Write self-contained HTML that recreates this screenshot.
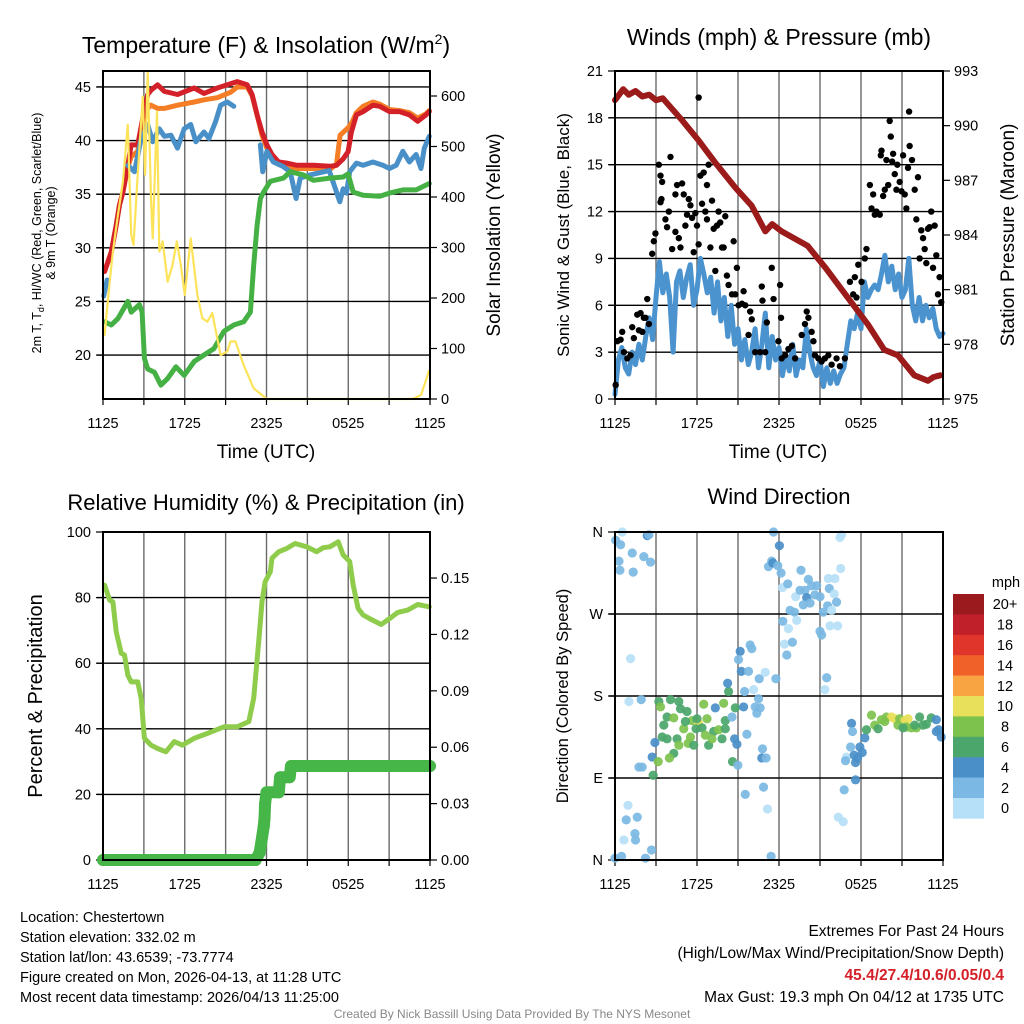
<!DOCTYPE html>
<html><head><meta charset="utf-8"><style>
html,body{margin:0;padding:0;background:#fff;}
svg{display:block;font-family:"Liberation Sans",Arial,sans-serif;}
</style></head><body>
<svg id="root" width="1024" height="1024" viewBox="0 0 1024 1024" xmlns="http://www.w3.org/2000/svg">
<g id="bg"></g>
<g id="bottom-text" font-size="14.5" fill="#000">
<text x="20" y="922">Location: Chestertown</text>
<text x="20" y="942">Station elevation: 332.02 m</text>
<text x="20" y="962">Station lat/lon: 43.6539; -73.7774</text>
<text x="20" y="982">Figure created on Mon, 2026-04-13, at 11:28 UTC</text>
<text x="20" y="1002">Most recent data timestamp: 2026/04/13 11:25:00</text>
<text x="1004" y="936" text-anchor="end" font-size="15.5">Extremes For Past 24 Hours</text>
<text x="1004" y="958" text-anchor="end" font-size="15.5">(High/Low/Max Wind/Precipitation/Snow Depth)</text>
<text x="1004" y="980" text-anchor="end" font-size="15.5" font-weight="bold" fill="#d42028">45.4/27.4/10.6/0.05/0.4</text>
<text x="1004" y="1002" text-anchor="end" font-size="15.5">Max Gust: 19.3 mph On 04/12 at 1735 UTC</text>
<text x="512" y="1018" text-anchor="middle" font-size="12" fill="#888">Created By Nick Bassill Using Data Provided By The NYS Mesonet</text>
</g>
</svg>
<script>
// ---------- Panel 1 data ----------
const redHours=[0.12,0.61,0.97,1.21,1.46,1.82,2.07,2.55,2.92,3.28,3.52,4.01,4.5,5.47,6.69,7.41,8.39,9.36,9.85,10.58,10.94,11.31,11.67,12.03,12.4,12.89,13.49,14.22,15.44,16.65,17.14,17.63,17.99,18.23,18.6,19.09,19.81,20.3,21.03,21.76,22.49,23.1,23.71,23.95];
const redTemps=[27.8,29.6,32.1,34.0,35.2,37.7,39.6,39.6,42.1,44.3,44.7,45.2,44.6,44.3,44.9,44.4,44.9,45.3,45.5,45.2,44.3,42.4,40.8,39.6,38.7,38.0,37.9,37.7,37.7,37.6,37.7,38.3,38.96,40.8,42.4,42.7,43.3,43.2,42.7,42.7,42.4,41.8,42.4,42.7];
const orangeHours=[0.12,0.61,0.97,1.21,1.46,1.82,2.07,2.55,2.92,3.28,3.52,4.01,4.5,5.47,6.69,7.41,8.39,9.36,9.85,10.58,10.94,11.31,11.67,12.03,12.4,12.89,13.49,14.22,15.44,16.65,17.14,17.4,17.99,18.23,18.6,19.09,19.81,20.3,21.03,21.76,22.49,23.1,23.71,23.95];
const orangeTemps=[27.8,29.6,32.1,34.0,35.2,37.5,38.5,39.0,41.5,43.0,43.3,43.0,43.0,43.3,43.6,43.8,44.0,44.5,45.0,45.0,44.2,42.4,40.5,39.3,38.5,37.8,37.5,37.4,37.4,37.3,37.8,40.5,41.2,41.6,42.6,43.2,43.6,43.4,42.9,42.8,42.6,42.1,42.5,42.8];
const blueHours=[0.05,0.3,1.0,1.82,2.31,2.8,3.28,3.65,4.13,4.5,4.98,5.47,5.96,6.44,6.81,7.41,7.78,8.27,8.63,9.12,9.6,10.5,11.55,11.72,12.03,12.5,13.2,13.74,14.17,14.47,15.2,16.6,17.38,17.63,17.87,18.11,18.6,19.09,19.81,20.54,21.03,21.52,22.0,22.49,22.98,23.34,23.58,23.95];
const blueTemps=[25.5,27.0,null,37.7,37.1,40.2,41.5,39.9,41.1,40.4,40.5,39.3,41.1,41.5,39.9,40.8,40.2,41.8,43.3,43.6,43.2,null,39.6,37.1,39.0,38.0,37.6,37.1,34.6,36.5,36.8,37.2,34.3,35.5,35.1,37.1,37.9,37.7,38.0,37.7,37.4,37.7,39.0,38.0,38.7,37.4,39.3,40.4];
const greenHours=[0.12,0.61,1.09,1.82,2.07,2.67,2.87,3.04,3.28,3.77,4.25,4.74,5.35,5.96,6.69,7.41,8.14,8.87,9.6,10.33,10.82,11.06,11.31,11.55,11.79,12.28,13.25,13.74,14.71,15.44,16.65,17.63,17.99,18.36,19.09,20.3,21.03,22.0,22.98,23.95];
const greenTemps=[23.1,22.8,23.4,25.0,24.0,24.7,24.0,19.7,18.7,18.4,17.2,17.8,18.9,18.1,19.4,20.0,20.6,22.2,22.8,23.1,24.0,28.4,32.1,34.6,35.2,36.2,36.5,37.1,36.8,36.3,36.5,36.6,36.9,35.2,34.9,34.8,35.1,35.4,35.4,36.0];
const solarHours=[0.12,0.49,0.73,1.09,1.46,1.82,2.07,2.24,2.55,2.92,3.09,3.28,3.52,3.65,3.96,4.13,4.38,4.74,5.1,5.42,5.71,6.0,6.44,6.93,7.29,7.66,8.02,8.63,9.12,9.36,9.72,10.33,11.06,12.03,22.73,23.34,23.95];
const solarValues=[127,232,292,364,430,543,325,305,444,599,444,648,397,318,569,292,312,232,265,312,265,206,318,206,160,153,170,87,94,114,114,67,21,0,0,8,57];
const tempTicks=[20,25,30,35,40,45];
const solarTicks=[0,100,200,300,400,500,600];
const timeLabels=["1125","1725","2325","0525","1125"];
// ---------- Panel 2 data ----------
const windHours=[0,0.25,0.5,0.75,1,1.25,1.5,1.75,2,2.25,2.5,2.75,3,3.25,3.5,3.75,4,4.25,4.5,4.75,5,5.25,5.5,5.75,6,6.25,6.5,6.75,7,7.25,7.5,7.75,8,8.25,8.5,8.75,9,9.25,9.5,9.75,10,10.25,10.5,10.75,11,11.25,11.5,11.75,12,12.25,12.5,12.75,13,13.25,13.5,13.75,14,14.25,14.5,14.75,15,15.25,15.5,15.75,16,16.25,16.5,16.75,17,17.25,17.5,17.75,18,18.25,18.5,18.75,19,19.25,19.5,19.75,20,20.25,20.5,20.75,21,21.25,21.5,21.75,22,22.25,22.5,22.75,23,23.25,23.5,23.75,24];
const windSpeeds=[0.3,2.5,3.3,2.0,1.6,3.0,2.2,3.5,2.5,4.0,5.2,3.8,6.5,8.8,6.8,8.0,6.5,3.0,7.5,8.2,6.5,7.8,8.6,6.0,7.0,9.0,8.0,6.8,7.8,5.5,7.5,5.0,6.5,4.0,6.0,3.5,4.5,2.5,3.8,2.2,3.0,4.5,2.0,3.5,5.5,2.0,4.0,2.5,3.3,1.5,2.8,1.8,3.5,1.5,2.5,2.0,4.5,3.0,2.0,1.5,2.5,0.8,2.0,1.0,1.8,1.0,1.6,2.0,3.5,5.0,4.5,5.5,4.5,7.5,6.5,7.0,7.3,7.0,8.0,9.2,7.5,8.5,7.0,8.0,6.5,7.0,9.0,6.0,5.0,6.5,5.0,6.0,5.2,5.8,4.5,4.0,4.2];
const gustHours=[0.05,0.17,0.41,0.53,0.65,0.9,1.14,1.26,1.38,1.75,1.63,1.87,2.0,2.11,2.23,2.36,2.48,2.72,2.96,2.84,3.21,3.33,3.45,3.33,3.4,3.69,3.81,4.06,3.94,4.18,4.42,4.54,4.42,4.67,4.79,4.91,5.03,5.15,5.27,5.4,5.52,5.64,5.76,5.88,6.0,6.12,6.12,6.25,6.49,6.37,6.61,6.73,6.85,6.73,6.98,7.1,7.22,7.34,7.46,7.58,7.7,7.83,7.95,8.07,8.19,8.31,8.68,8.56,8.8,8.92,9.04,9.29,9.41,9.53,9.77,9.89,10.01,10.26,10.62,10.74,10.79,10.99,11.11,11.47,11.6,12.08,12.15,11.96,12.2,12.45,12.69,12.94,13.18,13.66,13.9,14.03,14.15,14.39,14.52,14.63,14.88,15.12,15.36,15.61,15.85,16.21,16.46,16.82,17.19,17.43,17.55,17.67,17.8,18.04,18.28,18.4,18.65,18.77,18.89,19.01,19.13,19.37,19.45,19.5,19.62,19.74,19.86,19.99,20.1,20.18,20.28,20.35,20.47,20.59,20.66,20.83,20.96,21.08,21.2,21.32,21.44,21.52,21.56,21.73,21.93,22.05,22.17,22.29,22.41,22.54,22.66,22.78,22.9,23.02,23.14,23.27,23.39,23.51,23.63,23.75,23.87];
const gustSpeeds=[0.9,3.7,3.8,4.3,3.0,2.6,2.8,4.6,3.9,4.4,5.4,5.5,4.3,5.2,5.2,6.4,4.8,9.3,10.6,10.1,15.0,14.3,13.9,12.6,12.8,11.5,11.0,15.5,12.0,9.6,13.1,13.7,10.7,10.3,9.7,13.8,13.1,11.1,11.8,12.8,12.4,11.6,9.4,11.9,11.1,9.9,19.3,14.3,14.5,12.5,12.0,13.7,15.0,11.5,9.7,12.7,10.9,8.2,11.1,12.0,11.3,9.7,9.7,11.7,7.9,7.3,10.1,6.7,6.7,8.4,6.0,6.1,6.9,6.0,4.1,5.6,5.1,3.0,3.0,7.2,6.3,3.0,4.9,8.4,6.4,7.3,5.2,3.7,2.6,2.8,3.2,3.4,2.6,4.1,4.8,5.6,5.2,4.3,3.7,2.8,2.6,2.4,2.6,2.8,2.2,2.6,2.1,2.6,7.5,6.7,7.8,6.5,8.6,7.5,9.0,9.6,13.7,12.2,13.1,11.8,12.0,11.8,15.6,15.9,13.0,13.4,15.3,13.7,17.8,16.8,15.2,15.7,14.4,13.4,15.0,13.9,13.3,15.6,13.1,12.2,14.8,18.4,16.2,15.3,13.4,11.5,14.2,9.0,10.8,10.3,9.6,8.7,10.9,11.0,12.0,8.4,11.1,9.2,6.7,7.8,6.2];
const pressHours=[0,0.6,1.0,1.5,2.0,2.5,3.0,3.5,4.9,6.1,7.3,8.8,10.0,11.0,11.5,12.2,14.1,15.4,17.1,18.5,19.7,20.7,21.9,22.9,23.3,23.8];
const pressValues=[991.4,992.0,991.7,991.9,991.6,991.7,991.4,991.5,990.3,989.2,988.0,986.6,985.6,984.2,984.6,984.2,983.4,982.2,980.5,979.1,977.7,977.4,976.3,976.0,976.2,976.3];
const windTicks=[0,3,6,9,12,15,18,21];
const pressTicks=[975,978,981,984,987,990,993];
// ---------- Panel 3 data ----------
const rhHours=[0.12,0.49,0.73,0.97,1.34,1.58,1.82,2.07,2.55,2.8,3.04,3.53,4.01,4.62,5.23,5.83,6.69,7.66,8.87,9.85,10.7,11.06,11.43,11.67,11.9,12.28,12.4,12.9,13.5,14.1,14.95,15.68,16.17,16.65,17.26,17.63,18.11,18.36,18.72,19.09,19.57,20.42,21.03,21.64,22.37,23.1,23.95];
const rhValues=[83.8,79.2,78.7,69.6,63,62.5,56.4,54.3,54.3,49.3,37.1,35.0,34.0,33.0,36.1,35.0,37.1,38.6,40.6,40.6,42.2,49.3,66.5,78.7,84.8,87.9,92.0,94.0,95.0,96.5,95.5,94.0,95.2,95.5,97.0,93.0,91.0,83.8,76.7,74.7,73.6,71.8,73.6,75.5,76.2,77.9,77.2];
const precipHours=[0,11.2,11.5,11.8,11.85,11.9,12.0,12.9,13.0,13.7,13.8,24];
const precipValues=[0,0,0.004,0.018,0.022,0.03,0.036,0.036,0.044,0.044,0.05,0.05];
const rhTicks=[0,20,40,60,80,100];
const precipTicks=[0,0.03,0.06,0.09,0.12,0.15];
// ---------- Panel 4 data ----------
const dirHours=[0.05,0.53,0.41,2.36,2.48,1.26,2.11,2.6,0.29,0.36,1.33,1.14,0.95,0.82,1.63,1.46,0.65,1.5,2.67,0.48,2.23,0,1.02,1.92,1.75,1.99,2.92,2.72,2.79,3.16,3.21,3.33,4.06,4.67,4.79,5.27,3.81,4.3,3.57,3.45,4.54,5.03,5.64,6.12,6.37,5.93,5.52,5.35,4.67,4.3,3.98,5.76,6.61,6.85,7.22,7.58,8.07,7.83,8.07,7.95,8.31,8.8,6.49,6.73,8.6,7.34,3.81,5.15,6.0,7.1,8.24,8.56,9.16,9.04,9.24,9.89,10.01,9.77,9.48,10.14,10.5,10.26,10.62,10.38,9.41,9.65,8.75,8.92,8.99,9.53,10.55,10.99,11.77,10.79,10.74,11.06,10.87,11.16,11.42,11.6,12.03,11.47,11.23,11.55,11.91,12.15,12.25,12.64,12.81,13.13,12.28,12.69,12.4,12.57,12.98,13.3,13.22,13.61,14.15,13.54,13.9,14.39,14.76,14.03,13.78,14.27,14.63,15.0,15.61,16.09,15.68,16.04,16.21,15.56,15.24,15.85,15.73,16.29,15.0,15.12,15.49,15.36,16.46,16.58,16.51,17.31,17.38,17.24,16.94,16.87,17.5,17.75,17.6,17.92,18.09,18.28,17.6,16.77,16.34,16.7,18.4,18.77,19.01,19.25,19.5,19.86,20.23,20.47,20.83,21.2,21.44,21.32,21.69,22.05,22.29,22.54,22.78,23.14,23.51,23.68,23.87,23.51,21.93,20.71,19.74,21.08];
const dirDegrees=[351,360,346,356,357,337,333,327,328,318,316,221,60,44,47,29,22,22,11,4,2,2,174,176,102,102,129,113,93,108,174,168,176,174,166,163,157,156,148,135,133,144,153,150,145,144,135,128,126,117,112,126,137,126,141,143,144,133,153,172,185,167,171,155,108,167,133,152,155,133,194,157,229,220,207,236,232,207,185,187,177,168,167,161,168,138,133,127,104,72,199,206,199,122,112,112,80,56,4,360,345,328,322,326,323,315,299,303,274,272,262,254,237,225,239,263,289,318,308,296,296,301,301,288,280,282,291,289,309,309,298,292,283,279,272,274,257,257,251,247,200,187,354,357,320,150,141,124,113,109,115,112,107,124,118,134,88,77,47,42,143,159,148,144,154,157,157,155,155,153,155,146,145,145,157,148,149,156,154,143,135,141,148,148,152,145];
const dirSpeeds=[2,1,2,4,3,2,2,2,2,2,2,0,0,2,2,2,0,2,2,2,2,2,0,2,2,2,4,4,6,8,6,8,6,6,6,6,6,8,6,6,6,8,8,10,6,6,8,8,8,6,8,6,8,6,6,8,6,6,6,8,6,6,8,8,6,4,6,6,6,8,4,3,4,3,4,3,3,3,3,1,3,3,3,3,4,3,4,4,3,3,3,1,3,3,4,3,3,1,3,3,4,3,3,4,3,3,1,3,3,3,3,1,1,3,3,1,1,3,3,3,3,3,3,4,3,3,3,3,1,1,3,1,3,3,3,1,1,1,3,3,3,1,1,1,1,4,3,3,1,3,4,4,4,4,4,4,4,3,1,1,6,8,8,6,8,8,10,10,8,10,10,8,8,8,6,6,6,6,4,4,4,4,6,8,8,6];
const dirLabels=["N","E","S","W","N"];
const dirTicks=[0,90,180,270,360];
const speedColors=["#b6e0f7","#7bb8e3","#4a8fc8","#4aa66a","#7dc24d","#e8e05a","#f9a443","#f06129","#e0352b","#c0202a","#9b1a1e"];
const speedLabels=["0","2","4","6","8","10","12","14","16","18","20+"];

const NS="http://www.w3.org/2000/svg";
const root=document.getElementById('root');
function el(tag,parent){const e=document.createElementNS(NS,tag);(parent||root).appendChild(e);return e;}
function attr(e,o){for(const k in o)e.setAttribute(k,o[k]);return e;}
function scaleX(p,h){return p.x0+h/24*(p.x1-p.x0);}
function scaleL(p,v){return p.y1-(v-p.l0)/(p.l1-p.l0)*(p.y1-p.y0);}
function scaleR(p,v){return p.y1-(v-p.r0)/(p.r1-p.r0)*(p.y1-p.y0);}

const P1={x0:103,x1:430,y0:71,y1:399,l0:15.9,l1:46.49,r0:0,r1:649.5};
const P2={x0:615,x1:943,y0:71,y1:399,l0:0,l1:21,r0:975,r1:993};
const P3={x0:103,x1:430,y0:532,y1:860,l0:0,l1:100,r0:0,r1:0.1745};
const P4={x0:615,x1:943,y0:532,y1:860,l0:0,l1:360,r0:0,r1:1};

function text(g,x,y,s,size,anchor,extra){const t=el('text',g);attr(t,{x:x,y:y,'font-size':size,'text-anchor':anchor||'middle'});if(extra)attr(t,extra);t.textContent=s;return t;}

function frame(p,name,hTicks,hLabels,rTicks,rLabels,gridVals){
  const g=el('g');
  
  
  for(let i=1;i<8;i++){const x=scaleX(p,i*3);const l=el('line',g);attr(l,{x1:x,x2:x,y1:p.y0,y2:p.y1,stroke:'#6a6a6a','stroke-width':1.4});
    
    }
  gridVals.forEach(v=>{const y=scaleL(p,v);const l=el('line',g);attr(l,{x1:p.x0-6,x2:p.x1,y1:y,y2:y,stroke:'#000','stroke-width':1.4});
    
    });
  hTicks.forEach((v,i)=>{const y=scaleL(p,v);const l=el('line',g);attr(l,{x1:p.x0-7,x2:p.x0,y1:y,y2:y,stroke:'#000','stroke-width':1.2});
    const t=text(g,p.x0-12,y+5,hLabels[i],14.5,'end');
    
    });
  rTicks.forEach((v,i)=>{const y=scaleR(p,v);const l=el('line',g);attr(l,{x1:p.x1,x2:p.x1+7,y1:y,y2:y,stroke:'#000','stroke-width':1.2});
    if(rLabels){const t=text(g,p.x1+11,y+5,rLabels[i],14.5,'start');
    
    }});
  for(let i=0;i<=8;i++){const x=scaleX(p,i*3);const l=el('line',g);attr(l,{x1:x,x2:x,y1:p.y1,y2:p.y1+6,stroke:'#000','stroke-width':1.2});}
  timeLabels.forEach((s,i)=>{const t=text(g,scaleX(p,i*6),p.y1+29,s,14.5,'middle');
    
    });
  return g;
}
function border(p,name){const r=el('rect');attr(r,{x:p.x0,y:p.y0,width:p.x1-p.x0,height:p.y1-p.y0,fill:'none',stroke:'#000','stroke-width':2});
  
  }
function polyline(p,hs,vs,useRight,color,w,name){
  let segs=[],cur=[];
  hs.forEach((h,i)=>{const v=vs[i];if(v===null){if(cur.length)segs.push(cur);cur=[];return;}
    cur.push(scaleX(p,h).toFixed(1)+','+(useRight?scaleR(p,v):scaleL(p,v)).toFixed(1));});
  if(cur.length)segs.push(cur);
  const g=el('g');
  
  
  segs.forEach(s=>{const l=el('polyline',g);attr(l,{points:s.join(' '),fill:'none',stroke:color,'stroke-width':w,'stroke-linejoin':'round','stroke-linecap':'round'});});
  return g;
}

// ----- Panel 1 -----
frame(P1,'temperature',tempTicks,tempTicks.map(String),solarTicks,solarTicks.map(String),tempTicks);
polyline(P1,orangeHours,orangeTemps,false,'#f47d25',5,'orange-9m-temp-line');
polyline(P1,redHours,redTemps,false,'#d42028',5,'red-2m-temp-line');
polyline(P1,blueHours,blueTemps,false,'#4a90c8',5,'blue-hiwc-line');
polyline(P1,greenHours,greenTemps,false,'#45b044',5,'green-dewpoint-line');
polyline(P1,solarHours,solarValues,true,'#fde35a',2.2,'yellow-solar-line');
border(P1,'temperature');
{const g=el('g');


const t=text(g,266,53,'Temperature (F) & Insolation (W/m',23,'middle');const ts=el('tspan',t);attr(ts,{'font-size':14,dy:-9});ts.textContent='2';const t2=el('tspan',t);attr(t2,{dy:9});t2.textContent=')';


const a=text(g,266,458,'Time (UTC)',19,'middle');


const l1=text(g,0,0,'2m T, T',12.5,'middle',{transform:'translate(41,233) rotate(-90)'});const sub=el('tspan',l1);attr(sub,{'font-size':9,dy:3});sub.textContent='d';const rest=el('tspan',l1);attr(rest,{dy:-3});rest.textContent=', HI/WC (Red, Green, Scarlet/Blue)';


const l2=text(g,0,0,'& 9m T (Orange)',12.5,'middle',{transform:'translate(55,233) rotate(-90)'});


const r=text(g,0,0,'Solar Insolation (Yellow)',19,'middle',{transform:'translate(500,235) rotate(-90)'});

}

// ----- Panel 2 -----
frame(P2,'winds',windTicks,windTicks.map(String),pressTicks,pressTicks.map(String),windTicks.slice(1,7));
polyline(P2,windHours,windSpeeds,false,'#4a93cf',5,'sonic-wind-line');
{const g=el('g');


gustHours.forEach((h,i)=>{const c=el('circle',g);attr(c,{cx:scaleX(P2,h),cy:scaleL(P2,gustSpeeds[i]),r:3.2,fill:'#000'});

});}
polyline(P2,pressHours,pressValues,true,'#9b1b1b',6,'pressure-line');
border(P2,'winds');
{const g=el('g');


const t=text(g,779,45,'Winds (mph) & Pressure (mb)',23,'middle');


const a=text(g,778,458,'Time (UTC)',19,'middle');


const l=text(g,0,0,'Sonic Wind & Gust (Blue, Black)',17,'middle',{transform:'translate(569,235) rotate(-90)'});


const r=text(g,0,0,'Station Pressure (Maroon)',19,'middle',{transform:'translate(1014,235) rotate(-90)'});

}

// ----- Panel 3 -----
frame(P3,'humidity',rhTicks,rhTicks.map(String),precipTicks,precipTicks.map(v=>v.toFixed(2)),[20,40,60,80]);
polyline(P3,rhHours,rhValues,false,'#8fcc4c',5,'rh-line');
polyline(P3,precipHours,precipValues,true,'#47b648',12,'precip-line');
{const g=el('g');


precipHours.forEach((h,i)=>{const c=el('circle',g);attr(c,{cx:scaleX(P3,h),cy:scaleR(P3,precipValues[i]),r:6,fill:'#47b648'});

});}
border(P3,'humidity');
{const g=el('g');


const t=text(g,266,510,'Relative Humidity (%) & Precipitation (in)',22,'middle');


const l=text(g,0,0,'Percent & Precipitation',20,'middle',{transform:'translate(42,696) rotate(-90)'});

}

// ----- Panel 4 -----
frame(P4,'wind-direction',dirTicks,dirLabels,[],null,[90,180,270]);
{const g=el('g');


dirHours.forEach((h,i)=>{const c=el('circle',g);const ci=Math.min(10,Math.floor(dirSpeeds[i]/2));
attr(c,{cx:scaleX(P4,h),cy:scaleL(P4,dirDegrees[i]),r:4.6,fill:speedColors[ci],'fill-opacity':0.92});

});}
border(P4,'wind-direction');
{const g=el('g');


const t=text(g,779,504,'Wind Direction',22,'middle');


const l=text(g,0,0,'Direction (Colored By Speed)',16.5,'middle',{transform:'translate(568,696) rotate(-90)'});

}
{const g=el('g');


const top=594,h=20.4;
for(let i=0;i<11;i++){const idx=10-i;const r=el('rect',g);attr(r,{x:953,y:top+i*h,width:31,height:h+0.3,fill:speedColors[idx]});


const t=text(g,1005,top+i*h+h/2+5,speedLabels[idx],14.5,'middle');

}
const u=text(g,1006,587,'mph',14.5,'middle');

}
</script>
</body></html>
